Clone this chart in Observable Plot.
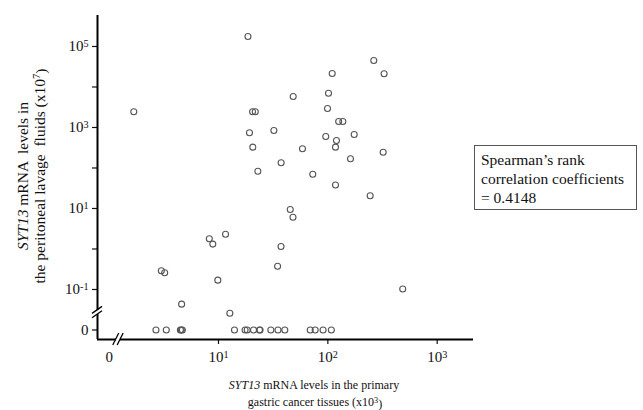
<!DOCTYPE html>
<html><head><meta charset="utf-8">
<script src="https://cdn.jsdelivr.net/npm/d3@7"></script>
<script src="https://cdn.jsdelivr.net/npm/@observablehq/plot@0.6"></script>
<style>
body{margin:0;background:#fff}
svg text{font-family:"Liberation Serif","Times New Roman",serif}
</style>
</head><body><div id="chart"></div>
<script>
// SYT13 mRNA in primary tissue (x10^3) and peritoneal lavage fluid (x10^7)
const tissue = [18.6, 1.68, 20.5, 21.7, 48.2, 109.6, 101.4, 99.3, 263, 327,
  125.6, 137.1, 19.2, 32.1, 95.7, 119.9, 174.2, 20.6, 117.5, 58.6,
  161.1, 320.6, 37.4, 22.9, 72.8, 117.5, 243.8, 45.3, 48.0, 11.6,
  8.24, 8.87, 37.3, 34.7, 3.00, 3.22, 9.86, 484, 4.60, 12.7,
  2.68, 3.33, 4.48, 4.57, 4.67, 14.0, 17.5, 18.3, 20.9, 23.7,
  24.0, 30.1, 35.0, 40.4, 69.0, 76.6, 90.4, 107.6];
const lavage = [176600, 2443, 2443, 2443, 5821, 21528, 7031, 2944, 45082, 21184,
  1406, 1406, 740, 843, 600, 478, 671, 327, 327, 298,
  169, 245, 135, 83.4, 69.8, 38.0, 20.6, 9.44, 6.10, 2.32,
  1.79, 1.32, 1.15, 0.376, 0.290, 0.258, 0.170, 0.103, 0.0434, 0.0260,
  0, 0, 0, 0, 0, 0, 0, 0, 0, 0,
  0, 0, 0, 0, 0, 0, 0, 0];

const yMajorTicks = [1e5, 1e3, 1e1, 1e-1];
const yMajorLabels = ["10^5", "10^3", "10^1", "10^-1"];
const yMinorTicks = [1e4, 1e2, 1e0];
const xMajorTicks = [10, 100, 1000];
const xMajorLabels = ["10^1", "10^2", "10^3"];
const zeroLabel = "0";
const statLines = ["Spearman\u2019s rank", "correlation coefficients", "= 0.4148"];

const ZERO_Y = 1e-2;   // where zero sits on the broken y axis
const ZERO_X = 1;      // where "0" sits on the broken x axis
const Y_BREAK = 10 ** -1.57;
const X_BREAK = 10 ** 0.085;
const xDomain = [10 ** -0.1065, 10 ** 3.332];
const yDomain = [10 ** -2.235, 10 ** 5.765];

const data = tissue.map((x, i) => ({x, y: lavage[i]}));

const plot = Plot.plot({
  width: 643, height: 410,
  marginTop: 15, marginLeft: 97, marginRight: 170, marginBottom: 71,
  style: {fontFamily: "Liberation Serif", fontSize: "15px", color: "#111", background: "#fff", overflow: "visible"},
  x: {type: "log", domain: xDomain},
  y: {type: "log", domain: yDomain},
  marks: [
    Plot.axisY([...yMajorTicks, ZERO_Y], {
      tickFormat: d => d === ZERO_Y ? zeroLabel : yMajorLabels[yMajorTicks.indexOf(d)],
      tickSize: 5, tickPadding: 4, label: null, fontSize: 15, strokeWidth: 1.2
    }),
    Plot.axisY(yMinorTicks, {tickFormat: () => "", tickSize: 5, label: null, strokeWidth: 1.2}),
    Plot.axisX(xMajorTicks, {
      tickFormat: d => xMajorLabels[xMajorTicks.indexOf(d)],
      tickSize: 5, tickPadding: 7, label: null, fontSize: 15, strokeWidth: 1.2
    }),
    Plot.axisX([ZERO_X], {tickFormat: () => zeroLabel, tickSize: 0, tickPadding: 12, label: null, fontSize: 15}),
    Plot.ruleX([xDomain[0]], {stroke: "#000", strokeWidth: 2}),
    Plot.ruleY([yDomain[0]], {stroke: "#000", strokeWidth: 2}),
    Plot.dot(data, {x: "x", y: d => d.y === 0 ? ZERO_Y : d.y, r: 3, stroke: "#555", strokeWidth: 1.1, fill: "none"})
  ]
});

document.getElementById("chart").appendChild(plot);
const svg = d3.select(plot);

// superscripts in tick labels
svg.selectAll("text").each(function () {
  const m = (this.textContent || "").match(/^10\^(-?\d+)$/);
  if (m) {
    this.textContent = "10";
    d3.select(this).append("tspan").attr("dy", "-0.45em").attr("font-size", "0.68em").text(m[1]);
  }
});

const sx = plot.scale("x"), sy = plot.scale("y");
const ax = sx.apply(xDomain[0]), ay = sy.apply(yDomain[0]);

// axis break marks
const yb = sy.apply(Y_BREAK);
svg.append("rect").attr("x", ax - 2).attr("y", yb - 2).attr("width", 4).attr("height", 4).attr("fill", "#fff");
[-2.2, 2.2].forEach(o => {
  svg.append("line").attr("x1", ax - 5).attr("y1", yb + o + 3.5).attr("x2", ax + 5).attr("y2", yb + o - 3.5)
    .attr("stroke", "#000").attr("stroke-width", 1.3);
});
const xb = sx.apply(X_BREAK);
svg.append("rect").attr("x", xb - 2).attr("y", ay - 2).attr("width", 4).attr("height", 4).attr("fill", "#fff");
[-2.2, 2.2].forEach(o => {
  svg.append("line").attr("x1", xb + o - 3).attr("y1", ay + 6).attr("x2", xb + o + 3).attr("y2", ay - 6)
    .attr("stroke", "#000").attr("stroke-width", 1.3);
});

// axis titles
const xt = svg.append("g").attr("font-size", 12).attr("fill", "#111").attr("text-anchor", "middle");
const xl1 = xt.append("text").attr("x", 314).attr("y", 389);
xl1.append("tspan").attr("font-style", "italic").text("SYT13");
xl1.append("tspan").text(" mRNA levels in the primary");
const xl2 = xt.append("text").attr("x", 315).attr("y", 406);
xl2.append("tspan").text("gastric cancer tissues (x10");
xl2.append("tspan").attr("dy", "-0.4em").attr("font-size", "0.68em").text("3");
xl2.append("tspan").attr("dy", "0.4em").text(")");

const yt = svg.append("g").attr("font-size", 15.5).attr("fill", "#111").attr("text-anchor", "middle").style("white-space", "pre");
const yl1 = yt.append("text").attr("transform", "translate(27.5,176) rotate(-90)");
yl1.append("tspan").attr("font-style", "italic").text("SYT13");
yl1.append("tspan").text(" mRNA  levels in");
const yl2 = yt.append("text").attr("transform", "translate(44.5,176) rotate(-90)");
yl2.append("tspan").text("the peritoneal lavage  fluids (x10");
yl2.append("tspan").attr("dy", "-0.4em").attr("font-size", "0.68em").text("7");
yl2.append("tspan").attr("dy", "0.4em").text(")");

// statistic box
const box = svg.append("g").attr("text-anchor", "start");
box.append("rect").attr("x", 474.5).attr("y", 145.5).attr("width", 162).attr("height", 64)
  .attr("fill", "#fff").attr("stroke", "#555").attr("stroke-width", 1);
statLines.forEach((t, i) => {
  box.append("text").attr("x", 481).attr("y", 165 + i * 19).attr("font-size", 15.5)
    .attr("text-anchor", "start").attr("fill", "#111").text(t);
});
</script>
</body></html>
